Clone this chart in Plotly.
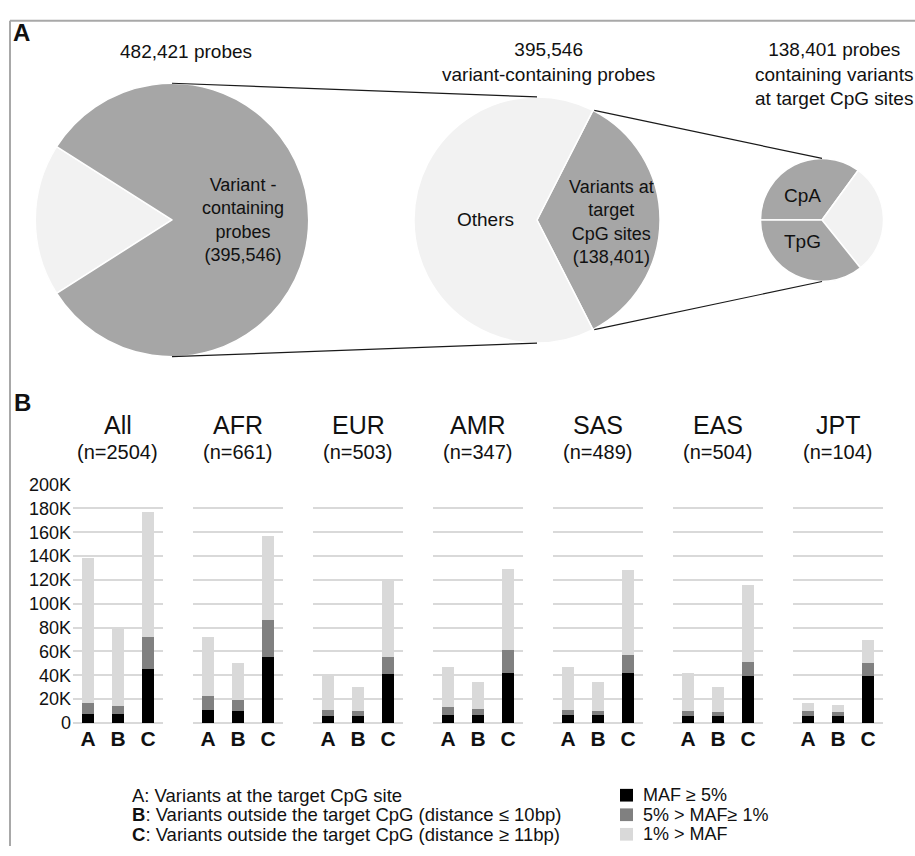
import math
import plotly.graph_objects as go

W, H = 915, 856

# ---------------- Panel A data ----------------
total_probes = 482421
variant_probes = 395546
target_cpg_probes = 138401
cpa_probes = 48500
tpg_probes = 49500
other_target = target_cpg_probes - cpa_probes - tpg_probes

# ---------------- Panel B data ----------------
populations = ["All", "AFR", "EUR", "AMR", "SAS", "EAS", "JPT"]
sample_sizes = [2504, 661, 503, 347, 489, 504, 104]
categories = ["A", "B", "C"]
maf_ge5 = {  # MAF >= 5%
    "All": [7500, 7500, 45000], "AFR": [10600, 10000, 55000],
    "EUR": [5800, 5800, 41000], "AMR": [6500, 6500, 42000],
    "SAS": [6500, 6500, 42000], "EAS": [6000, 6000, 39000],
    "JPT": [6000, 6000, 39000],
}
maf_1to5 = {  # 5% > MAF >= 1%
    "All": [9500, 7000, 27000], "AFR": [12400, 9600, 31000],
    "EUR": [4800, 4200, 14000], "AMR": [6500, 5000, 19500],
    "SAS": [4100, 3500, 15000], "EAS": [3800, 3000, 12000],
    "JPT": [3800, 3000, 11000],
}
maf_lt1 = {  # 1% > MAF
    "All": [121400, 65500, 105000], "AFR": [49000, 30400, 71000],
    "EUR": [29400, 20000, 65000], "AMR": [34000, 22500, 67500],
    "SAS": [36400, 24000, 71000], "EAS": [32200, 21000, 65000],
    "JPT": [7200, 5700, 20000],
}
y_tick_vals = [0, 20000, 40000, 60000, 80000, 100000, 120000, 140000, 160000, 180000, 200000]
y_tick_text = ["0", "20K", "40K", "60K", "80K", "100K", "120K", "140K", "160K", "180K", "200K"]
series_names = ["MAF ≥ 5%", "5% > MAF≥ 1%", "1% > MAF"]
series_colors = ["#000000", "#808080", "#d9d9d9"]
category_notes = [
    "A: Variants at the target CpG site",
    "<b>B</b>: Variants outside the target CpG (distance ≤ 10bp)",
    "<b>C</b>: Variants outside the target CpG (distance ≥ 11bp)",
]

PIE_DARK = "#a6a6a6"
PIE_LIGHT = "#f2f2f2"
FONT = "Liberation Sans, Arial, sans-serif"
NARROW = "Liberation Sans Narrow, Liberation Sans, Arial, sans-serif"

def px_x(x):
    return x / W

def px_y(y):
    return 1 - y / H

fig = go.Figure()

# ---------------- Pies ----------------
pies = [  # center x, center y, radius (px)
    (172, 215, 140),
    (537, 215, 126),
    (822, 215, 63),
]

def pie_domain(cx, cy, r):
    return dict(x=[px_x(cx - r), px_x(cx + r)], y=[px_y(cy + r), px_y(cy - r)])

f1 = (total_probes - variant_probes) / total_probes
fig.add_trace(go.Pie(
    values=[total_probes - variant_probes, variant_probes],
    labels=["No variant", "Variant-containing probes"],
    marker=dict(colors=[PIE_LIGHT, PIE_DARK], line=dict(color="white", width=1.5)),
    sort=False, direction="clockwise", rotation=270 - f1 * 180,
    textinfo="none", hoverinfo="label+value", showlegend=False,
    domain=pie_domain(*pies[0]),
))
f2 = target_cpg_probes / variant_probes
fig.add_trace(go.Pie(
    values=[target_cpg_probes, variant_probes - target_cpg_probes],
    labels=["Variants at target CpG sites", "Others"],
    marker=dict(colors=[PIE_DARK, PIE_LIGHT], line=dict(color="white", width=1.5)),
    sort=False, direction="clockwise", rotation=90 - f2 * 180,
    textinfo="none", hoverinfo="label+value", showlegend=False,
    domain=pie_domain(*pies[1]),
))
fig.add_trace(go.Pie(
    values=[cpa_probes, other_target, tpg_probes],
    labels=["CpA", "Others", "TpG"],
    marker=dict(colors=[PIE_DARK, PIE_LIGHT, PIE_DARK], line=dict(color="white", width=1.5)),
    sort=False, direction="clockwise", rotation=270,
    textinfo="none", hoverinfo="label+value", showlegend=False,
    domain=pie_domain(*pies[2]),
))

shapes = []
(c1x, c1y, r1), (c2x, c2y, r2), (c3x, c3y, r3) = pies
line_style = dict(color="#1a1a1a", width=1.2)
for s in (-1, 1):
    shapes.append(dict(type="line", xref="paper", yref="paper",
                       x0=px_x(c1x), y0=px_y(c1y + s * r1),
                       x1=px_x(c2x), y1=px_y(c2y + s * r2), line=line_style))
half = f2 * math.pi
for s in (-1, 1):
    ex = c2x + r2 * math.cos(half)
    ey = c2y + s * r2 * math.sin(half)
    shapes.append(dict(type="line", xref="paper", yref="paper",
                       x0=px_x(ex), y0=px_y(ey),
                       x1=px_x(c3x), y1=px_y(c3y + s * r3), line=line_style))
# outer frame: top and left edges
frame = dict(color="#a8a8a8", width=2)
shapes.append(dict(type="line", xref="paper", yref="paper",
                   x0=px_x(10), y0=px_y(11), x1=1, y1=px_y(11), line=frame))
shapes.append(dict(type="line", xref="paper", yref="paper",
                   x0=px_x(10), y0=px_y(11), x1=px_x(10), y1=0, line=frame))

annotations = []

def ann(text, x, y, size, bold=False, align="center", xanchor="center", family=FONT, color="#111"):
    annotations.append(dict(text=text, x=px_x(x), y=px_y(y), xref="paper", yref="paper",
                            xanchor=xanchor, yanchor="middle", align=align, showarrow=False,
                            font=dict(family=family, size=size, color=color,
                                      weight="bold" if bold else "normal")))

ann("A", 21, 23, 24, bold=True)
ann("B", 22, 402, 24, bold=True)
ann(f"{total_probes:,} probes", 186, 43, 19)
ann(f"{variant_probes:,}<br>variant-containing probes", 548, 53, 19)
ann(f"{target_cpg_probes:,} probes<br>containing variants<br>at target CpG sites", 834, 66, 19)
ann(f"Variant -<br>containing<br>probes<br>({variant_probes:,})", 243, 215, 18)
ann("Others", 485, 215, 19)
ann(f"Variants at<br>target<br>CpG sites<br>({target_cpg_probes:,})", 611, 217, 18)
ann("CpA", 802, 190, 19)
ann("TpG", 802, 237, 19)

# ---------------- Bars ----------------
panel_left = [73, 193, 313, 433, 553, 673, 793]
panel_w = 90
y_top, y_bot = 486, 730

layout_axes = {}
for i, pop in enumerate(populations):
    n = i + 1
    xa = "x" if n == 1 else f"x{n}"
    ya = "y" if n == 1 else f"y{n}"
    for name, col, data in zip(series_names, series_colors, [maf_ge5, maf_1to5, maf_lt1]):
        fig.add_trace(go.Bar(
            x=categories, y=data[pop], name=name, marker=dict(color=col, line=dict(width=0)),
            xaxis=xa, yaxis=ya, width=0.4, showlegend=False, legendgroup=name,
        ))
    layout_axes["xaxis" if n == 1 else f"xaxis{n}"] = dict(
        domain=[px_x(panel_left[i]), px_x(panel_left[i] + panel_w)],
        anchor=ya, type="category", categoryarray=categories, range=[-0.5, 2.5],
        showgrid=False, zeroline=False, showline=False, ticks="", ticklabelstandoff=1,
        tickfont=dict(family=NARROW, size=21, color="#111", weight="bold"),
        fixedrange=True,
    )
    layout_axes["yaxis" if n == 1 else f"yaxis{n}"] = dict(
        domain=[px_y(y_bot), px_y(y_top)], anchor=xa, range=[0, 200000],
        tickvals=y_tick_vals, ticktext=y_tick_text, showticklabels=(i == 0),
        showgrid=True, gridcolor="#d9d9d9", gridwidth=1.5,
        zeroline=True, zerolinecolor="#d9d9d9", zerolinewidth=1.5,
        showline=False, ticks="", ticklabelstandoff=1,
        tickfont=dict(family=FONT, size=18, color="#111"), fixedrange=True,
    )
    cx = panel_left[i] + panel_w / 2
    ann(pop, cx, 425, 25)
    ann(f"(n={sample_sizes[i]})", cx, 453, 20)

# category notes
note_y0 = 804
for k, note in enumerate(category_notes):
    ann(note, 130, note_y0 + 20 * k, 18.5, align="left", xanchor="left", family=NARROW)

# manual legend
for k, (name, col) in enumerate(zip(series_names, series_colors)):
    yc = note_y0 + 20 * k
    shapes.append(dict(type="rect", xref="paper", yref="paper",
                       x0=px_x(620), x1=px_x(633), y0=px_y(yc + 6.5), y1=px_y(yc - 6.5),
                       fillcolor=col, line=dict(width=0)))
    ann(name, 641, yc, 18, align="left", xanchor="left", family=NARROW)

fig.update_layout(
    width=W, height=H, margin=dict(l=0, r=0, t=0, b=0),
    paper_bgcolor="white", plot_bgcolor="white",
    barmode="stack", bargap=0.6, showlegend=False,
    shapes=shapes, annotations=annotations,
    font=dict(family=FONT, color="#111"),
    **layout_axes,
)

fig.write_html("out.html")
